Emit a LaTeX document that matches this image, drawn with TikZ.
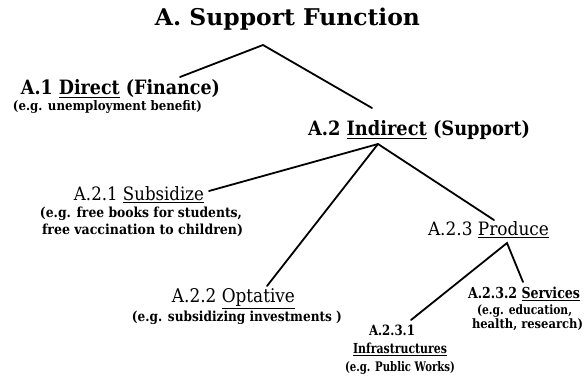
\documentclass[tikz,border=0pt]{standalone}
\usepackage{graphicx}
\usepackage{fontspec}
\setmainfont{DejaVu Serif}
\newcommand\myul[1]{\underline{#1}}
\newcommand\fitwh[3]{\resizebox{#1pt}{#2pt}{#3}}
\begin{document}
\begin{tikzpicture}[x=1pt,y=-1pt,
  lbl/.style={anchor=base,inner sep=0pt},
  conn/.style={line width=1.8pt,line cap=round}]
\useasboundingbox (0,0) rectangle (584,376);
% texts
\node[lbl] (title) at (287.5,25) {\fitwh{265}{17.5}{\bfseries A. Support Function}};
\node[lbl] (a1) at (120.5,94) {\fitwh{199}{15}{\bfseries A.1 \myul{Direct} (Finance)}};
\node[lbl] (a1e) at (107.5,110.5) {\fitwh{189}{10}{\bfseries (e.g. unemployment benefit)}};
\node[lbl] (a2) at (419,135) {\fitwh{222}{15}{\bfseries A.2 \myul{Indirect} (Support)}};
\node[lbl] (a21) at (139,200) {\fitwh{130}{14}{A.2.1 \myul{Subsidize}}};
\node[lbl] (a21e1) at (141,217) {\fitwh{202}{10.5}{\bfseries (e.g. free books for students,}};
\node[lbl] (a21e2) at (142.5,234) {\fitwh{201}{10.5}{\bfseries free vaccination to children)}};
\node[lbl] (a23) at (488.5,235) {\fitwh{121}{14}{A.2.3 \myul{Produce}}};
\node[lbl] (a22) at (233.5,302) {\fitwh{123}{14}{A.2.2 \myul{Optative}}};
\node[lbl] (a22e) at (237,321) {\fitwh{210}{10.5}{\bfseries (e.g. subsidizing investments )}};
\node[lbl] (a232) at (524,298) {\fitwh{112}{11.5}{\bfseries A.2.3.2 \myul{Services}}};
\node[lbl] (a232e1) at (524.5,314.5) {\fitwh{95}{9.8}{\bfseries (e.g. education,}};
\node[lbl] (a232e2) at (527.5,328.5) {\fitwh{111}{9.8}{\bfseries health, research)}};
\node[lbl] (a231) at (392,335) {\fitwh{46}{10.5}{\bfseries A.2.3.1}};
\node[lbl] (a231b) at (400,353) {\fitwh{94}{10.5}{\bfseries \myul{Infrastructures}}};
\node[lbl] (a231e) at (400,371) {\fitwh{110}{10}{\bfseries (e.g. Public Works)}};
% connector end points
\coordinate (pA) at (263,45);
\coordinate (e1) at (180,77);
\coordinate (e2) at (372,108);
\coordinate (pA2) at (378,144);
\coordinate (e21) at (209,191);
\coordinate (e22) at (267,286);
\coordinate (e23) at (494,220);
\coordinate (pA23) at (507,243);
\coordinate (e231) at (411,320);
\coordinate (e232) at (523,282);
\draw[conn] (e1) -- (pA) -- (e2);
\draw[conn] (e21) -- (pA2) -- (e23);
\draw[conn] (pA2) -- (e22);
\draw[conn] (e231) -- (pA23) -- (e232);
\end{tikzpicture}
\end{document}
